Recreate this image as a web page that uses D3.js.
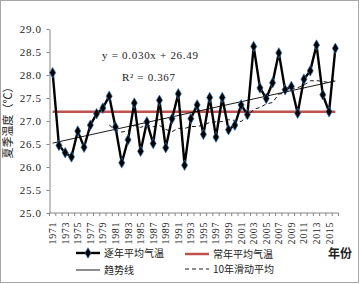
<!DOCTYPE html>
<html>
<head>
<meta charset="utf-8">
<script src="https://cdn.jsdelivr.net/npm/d3@7"></script>
<style>
  body { margin: 0; background: #fff; }
  svg { display: block; }
</style>
</head>
<body>
<svg id="chart" width="361" height="284"></svg>
<script>
// DATA
const years = d3.range(1971, 2017);
const temps = [
  28.05, 26.47, 26.31, 26.22, 26.78, 26.43, 26.91, 27.16, 27.28, 27.54,
  26.87, 26.09, 26.59, 27.39, 26.34, 26.98, 26.51, 27.45, 26.42, 27.05,
  27.59, 26.04, 27.05, 27.35, 26.71, 27.51, 26.65, 27.51, 26.81, 26.91,
  27.35, 27.14, 28.62, 27.72, 27.49, 27.83, 28.48, 27.68, 27.75, 27.17,
  27.91, 28.09, 28.65, 27.57, 27.20, 28.58
];
const normalTemp = 27.2;
const trendSlope = 0.030,
  trendIntercept = 26.49,
  trendR2 = 0.367;
const yTicks = [25, 25.5, 26, 26.5, 27, 27.5, 28, 28.5, 29];
const xLabelYears = years.filter((y) => (y - 1971) % 2 === 0);
const legendItems = ["逐年平均气温", "趋势线", "常年平均气温", "10年滑动平均"];

// CANVAS SETUP
const svg = d3.select("#chart");
const serif = "'Liberation Serif', 'DejaVu Serif', serif";
const cjk = "'Noto Sans CJK SC', sans-serif";

svg
  .append("rect")
  .attr("x", 0.5)
  .attr("y", 0.5)
  .attr("width", 358)
  .attr("height", 282)
  .attr("fill", "#fff")
  .attr("stroke", "#a6a6a6");

const x = d3.scaleBand().domain(years).range([49.5, 338.5]).padding(0);
const y = d3.scaleLinear().domain([25, 29]).range([213, 29]);
const cx = (yr) => x(yr) + x.bandwidth() / 2;

const data = years.map((yr, i) => ({ year: yr, value: temps[i], idx: i + 1 }));

// 10-year moving average
const movAvg = data
  .filter((d, i) => i >= 9)
  .map((d) => ({
    year: d.year,
    value: d3.mean(temps.slice(d.idx - 10, d.idx)),
  }));

// AXES
const gy = svg
  .append("g")
  .attr("transform", `translate(${x.range()[0]},0)`)
  .call(
    d3
      .axisLeft(y)
      .tickValues(yTicks)
      .tickFormat(d3.format(".1f"))
      .tickSize(3)
      .tickSizeOuter(0)
  );
gy.select(".domain").attr("stroke", "#868686");
gy.selectAll(".tick line").attr("stroke", "#868686");
gy.selectAll("text")
  .attr("x", -8)
  .attr("fill", "#222")
  .style("font-family", serif)
  .style("font-size", "11px")
  .style("letter-spacing", "0.6px");

const gx = svg.append("g").attr("transform", `translate(0,${y(25)})`);
gx.append("line")
  .attr("x1", x.range()[0])
  .attr("x2", x.range()[1])
  .attr("stroke", "#868686");
gx.selectAll(".xtick")
  .data(years.concat([null]))
  .join("line")
  .attr("class", "xtick")
  .attr("x1", (d) => (d === null ? x.range()[1] : x(d)))
  .attr("x2", (d) => (d === null ? x.range()[1] : x(d)))
  .attr("y1", 0)
  .attr("y2", 3)
  .attr("stroke", "#868686");
gx.selectAll(".xlabel")
  .data(xLabelYears)
  .join("text")
  .attr("class", "xlabel")
  .attr("transform", (d) => `translate(${cx(d)},9) rotate(-90)`)
  .attr("text-anchor", "end")
  .attr("dy", "0.35em")
  .attr("fill", "#222")
  .style("font-family", serif)
  .style("font-size", "10px")
  .style("letter-spacing", "0.6px")
  .text((d) => d);

// Y TITLE
svg
  .append("text")
  .attr("transform", `translate(8,${(y(25) + y(29)) / 2 - 1}) rotate(-90)`)
  .attr("text-anchor", "middle")
  .attr("dy", "0.35em")
  .attr("fill", "#222")
  .style("font-family", cjk)
  .style("font-size", "11px")
  .text("夏季温度（℃）");

// LINES
const line = d3
  .line()
  .x((d) => cx(d.year))
  .y((d) => y(d.value));

// normal
svg
  .append("line")
  .attr("x1", cx(years[0]))
  .attr("x2", cx(years[years.length - 1]))
  .attr("y1", y(normalTemp))
  .attr("y2", y(normalTemp))
  .attr("stroke", "#c0504d")
  .attr("stroke-width", 2.5);

// trend
svg
  .append("line")
  .attr("x1", cx(years[0]))
  .attr("x2", cx(years[years.length - 1]))
  .attr("y1", y(trendIntercept + trendSlope * 1))
  .attr("y2", y(trendIntercept + trendSlope * years.length))
  .attr("stroke", "#000")
  .attr("stroke-width", 0.9);

// moving average
svg
  .append("path")
  .datum(movAvg)
  .attr("d", line)
  .attr("fill", "none")
  .attr("stroke", "#000")
  .attr("stroke-width", 0.9)
  .attr("stroke-dasharray", "4,3");

// yearly
svg
  .append("path")
  .datum(data)
  .attr("d", line)
  .attr("fill", "none")
  .attr("stroke", "#000")
  .attr("stroke-width", 2.4)
  .attr("stroke-linejoin", "miter");

const diamond = d3.symbol().type(d3.symbolDiamond).size(32);
svg
  .append("g")
  .selectAll("path")
  .data(data)
  .join("path")
  .attr("transform", (d) => `translate(${cx(d.year)},${y(d.value)})`)
  .attr("d", diamond)
  .attr("fill", "#000")
  .attr("stroke", "#2e75b6")
  .attr("stroke-width", 0.7);

// ANNOTATION
svg
  .append("text")
  .attr("x", 102)
  .attr("y", 59)
  .attr("fill", "#222")
  .attr("textLength", 96)
  .attr("lengthAdjust", "spacing")
  .style("font-family", serif)
  .style("font-size", "11px")
  .text(`y = ${trendSlope.toFixed(3)}x + ${trendIntercept.toFixed(2)}`);

svg
  .append("text")
  .attr("x", 122)
  .attr("y", 81)
  .attr("fill", "#222")
  .attr("textLength", 53)
  .attr("lengthAdjust", "spacing")
  .style("font-family", serif)
  .style("font-size", "11px")
  .text(`R² = ${trendR2.toFixed(3)}`);

// LEGEND
const lg = svg.append("g");
const legendPos = [
  { lx: 76, ly: 253 },
  { lx: 76, ly: 270 },
  { lx: 185, ly: 254 },
  { lx: 185, ly: 269 },
];
legendItems.forEach((name, i) => {
  const p = legendPos[i];
  const ln = lg
    .append("line")
    .attr("x1", p.lx)
    .attr("x2", p.lx + 24)
    .attr("y1", p.ly)
    .attr("y2", p.ly);
  if (i === 0) ln.attr("stroke", "#000").attr("stroke-width", 2.4);
  if (i === 1) ln.attr("stroke", "#000").attr("stroke-width", 0.9);
  if (i === 2) ln.attr("stroke", "#c0504d").attr("stroke-width", 2.5);
  if (i === 3)
    ln.attr("stroke", "#000")
      .attr("stroke-width", 0.9)
      .attr("stroke-dasharray", "4,3");
  if (i === 0) {
    lg.append("path")
      .attr("transform", `translate(${p.lx + 12},${p.ly})`)
      .attr("d", diamond)
      .attr("fill", "#000")
      .attr("stroke", "#2e75b6")
      .attr("stroke-width", 0.7);
  }
  lg.append("text")
    .attr("x", p.lx + 28)
    .attr("y", p.ly)
    .attr("dy", "0.35em")
    .attr("fill", "#222")
    .style("font-family", cjk)
    .style("font-size", "10px")
    .text(name);
});

svg
  .append("text")
  .attr("x", 328)
  .attr("y", 254)
  .attr("dy", "0.35em")
  .attr("fill", "#222")
  .style("font-family", cjk)
  .style("font-size", "12px")
  .style("font-weight", "bold")
  .text("年份");
</script>
</body>
</html>
